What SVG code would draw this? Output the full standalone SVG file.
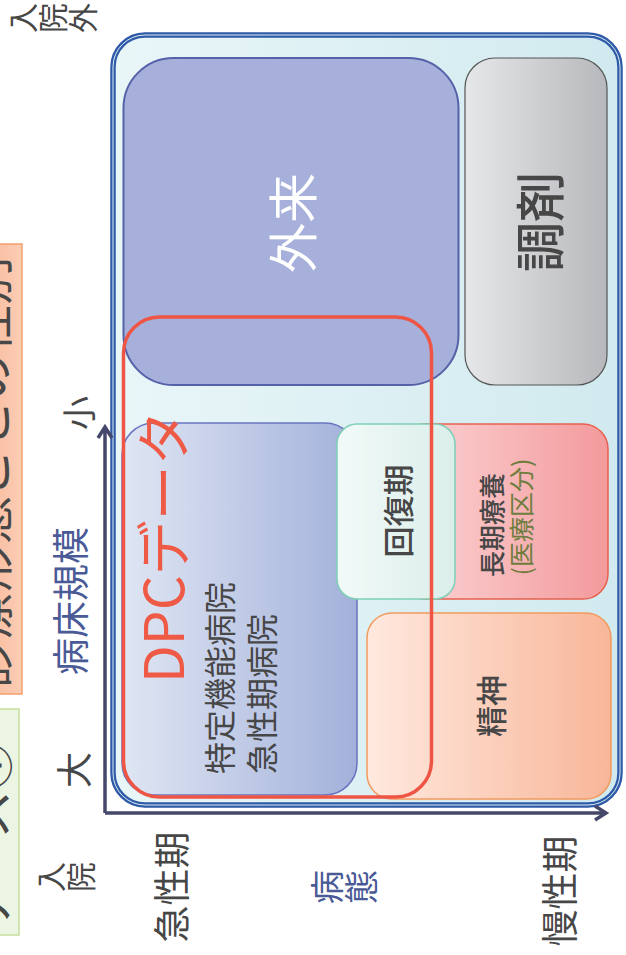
<svg xmlns="http://www.w3.org/2000/svg" width="626" height="955" viewBox="0 0 626 955">
<defs>
<linearGradient id="gOuter" x1="0" y1="0" x2="1" y2="0"><stop offset="0" stop-color="#E9F6F8"/><stop offset="1" stop-color="#D1EAEF"/></linearGradient>
<linearGradient id="gAcute" x1="0" y1="0" x2="1" y2="0"><stop offset="0" stop-color="#DFE6F3"/><stop offset="1" stop-color="#A3B1DB"/></linearGradient>
<linearGradient id="gDisp" x1="0" y1="0" x2="1" y2="0"><stop offset="0" stop-color="#E6E7E9"/><stop offset="1" stop-color="#B7B8BB"/></linearGradient>
<linearGradient id="gLong" x1="0" y1="0" x2="1" y2="0"><stop offset="0" stop-color="#FCD6D7"/><stop offset="1" stop-color="#F39A9C"/></linearGradient>
<linearGradient id="gRecov" x1="0" y1="0" x2="1" y2="0"><stop offset="0" stop-color="#F2FAF8"/><stop offset="1" stop-color="#DBEEEA"/></linearGradient>
<linearGradient id="gPsy" x1="0" y1="0" x2="1" y2="0"><stop offset="0" stop-color="#FFE9DF"/><stop offset="1" stop-color="#F8B699"/></linearGradient>
<linearGradient id="gOrange" x1="0" y1="0" x2="1" y2="0"><stop offset="0" stop-color="#F9BC9F"/><stop offset="1" stop-color="#FBCDB5"/></linearGradient>
</defs>
<style>
text{font-family:"Noto Sans CJK JP","Noto Sans",sans-serif;dominant-baseline:central;}
.grey{fill:#474747;}
.med{font-weight:500;}
.blue{fill:#4A5A96;}
.vert{writing-mode:vertical-rl;text-orientation:upright;}
.axis{stroke:#45486A;stroke-width:3.5;fill:none;}
</style>

<g id="side-orange">
<rect x="-10" y="244" width="32" height="450" fill="url(#gOrange)" stroke="#F3A06C" stroke-width="1.5"/>
<text class="grey" font-size="48" transform="translate(-14,688) rotate(-90)">診療形態ごとの性別</text>
</g>
<g id="side-green">
<rect x="-10" y="709" width="29" height="226" fill="#ECF5E2" stroke="#C6DE9C" stroke-width="1.5"/>
<text class="grey" font-size="48" transform="translate(-14,932) rotate(-90)">ケース①</text>
</g>

<g id="container">
<rect x="113" y="35" width="507" height="770" rx="32" fill="url(#gOuter)" stroke="#2E5AA7" stroke-width="5.5"/>
<rect x="113" y="35" width="507" height="770" rx="32" fill="none" stroke="#DDEFF4" stroke-width="1"/>
</g>

<g id="gairai">
<rect x="123.5" y="58" width="335" height="327" rx="50" fill="#A6B0DA" stroke="#5561A8" stroke-width="2"/>
<text font-size="50" fill="#FFFFFF" text-anchor="middle" transform="translate(290,223) rotate(-90)">外来</text>
</g>

<g id="chozai">
<rect x="465" y="58" width="142" height="327" rx="30" fill="url(#gDisp)" stroke="#555555" stroke-width="1.2"/>
<text class="grey med" font-size="50" text-anchor="middle" transform="translate(537,222) rotate(-90)">調剤</text>
</g>

<g id="acute">
<rect x="122" y="423" width="235" height="372" rx="32" fill="url(#gAcute)" stroke="#6A74C0" stroke-width="1.5"/>
<text class="grey" font-size="32" transform="translate(218,774) rotate(-90)">特定機能病院</text>
<text class="grey" font-size="32" transform="translate(260,774) rotate(-90)">急性期病院</text>
</g>

<g id="longterm">
<rect x="400" y="424" width="208" height="175" rx="25" fill="url(#gLong)" stroke="#E8604E" stroke-width="1.5"/>
<text class="grey med" font-size="26" text-anchor="middle" transform="translate(490,525) rotate(-90)">長期療養</text>
<text font-size="25" fill="#6F7D3E" text-anchor="middle" transform="translate(520,517) rotate(-90)">(医療区分)</text>
</g>

<g id="recovery">
<rect x="337" y="424" width="118" height="175" rx="20" fill="url(#gRecov)" stroke="#7ECFB6" stroke-width="1.5"/>
<text class="grey med" font-size="31" text-anchor="middle" transform="translate(396,511) rotate(-90)">回復期</text>
</g>

<g id="psych">
<rect x="367" y="613" width="244" height="186" rx="25" fill="url(#gPsy)" stroke="#F29A5E" stroke-width="1.5"/>
<text class="grey med" font-size="31" text-anchor="middle" transform="translate(489,706) rotate(-90)">精神</text>
</g>

<g id="dpc">
<rect x="123.5" y="317" width="308" height="480" rx="36" fill="none" stroke="#EE5544" stroke-width="3.5"/>
<text font-size="55" fill="#EE5A45" transform="translate(160,683) rotate(-90)">DPCデータ</text>
</g>

<g id="connectors">
<path class="axis" d="M105,813 V427 M98,438 L105,427 L112,438"/>
<path class="axis" d="M105,813 H606 M595,806 L606,813 L595,820"/>
</g>

<g id="axis-labels">
<text class="grey" font-size="34" text-anchor="middle" transform="translate(77,413) rotate(-90)">小</text>
<text class="blue" font-size="37" text-anchor="middle" transform="translate(69,601) rotate(-90)">病床規模</text>
<text class="grey" font-size="36" text-anchor="middle" transform="translate(72,770) rotate(-90)">大</text>
<text class="grey" font-size="37" text-anchor="middle" transform="translate(170,887) rotate(-90)">急性期</text>
<text class="grey" font-size="37" text-anchor="middle" transform="translate(558,891) rotate(-90)">慢性期</text>
<text class="blue vert" font-size="34" transform="translate(310,887) rotate(-90)">病態</text>
<text class="grey vert" font-size="30" transform="translate(36,877) rotate(-90)">入院</text>
<text class="grey vert" font-size="30" transform="translate(8,18) rotate(-90)">入院外</text>
</g>
</svg>
